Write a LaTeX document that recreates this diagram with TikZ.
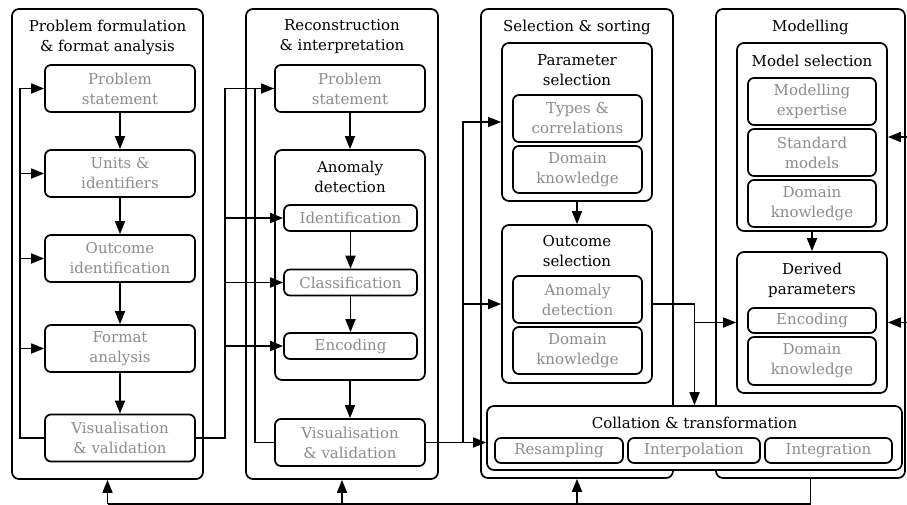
\documentclass[tikz,border=0pt]{standalone}
\usepackage{fontspec}
\setmainfont{DejaVu Serif}
\usetikzlibrary{arrows.meta}

\begin{document}
\begin{tikzpicture}[x=1pt,y=-1pt]
            \tikzstyle{column}=[draw,rounded corners=7pt,line width=1.7pt,fill=white,inner sep=0pt]
            \tikzstyle{group}=[draw,rounded corners=7pt,line width=1.7pt,fill=white,inner sep=0pt]
            \tikzstyle{item}=[draw,rounded corners=6pt,line width=1.7pt,fill=white,inner sep=0pt,align=center,text=black!45,font=\fontsize{15}{20}\selectfont]
            \tikzstyle{heading}=[align=center,inner sep=0pt,font=\fontsize{15}{20}\selectfont]
            \tikzset{edge/.style = {-{Triangle[length=13pt,width=10pt]},line width=1.7pt}}
            \tikzset{link/.style = {line width=1.7pt}}
            \useasboundingbox (0,0) rectangle (907,504);
            \node[column,minimum width=191pt,minimum height=470pt] (c1) at (107.5,244) {};
            \node[column,minimum width=192pt,minimum height=470pt] (c2) at (342,244) {};
            \node[column,minimum width=192pt,minimum height=469pt] (c3) at (577,243.5) {};
            \node[column,minimum width=189pt,minimum height=469pt] (c4) at (810.5,243.5) {};
            \node[heading] (t1) at (107.5,37) {Problem formulation\\\& format analysis};
            \node[heading] (t2) at (342,37) {Reconstruction\\\& interpretation};
            \node[heading] (t3) at (577,27) {Selection \& sorting};
            \node[heading] (t4) at (810.5,27) {Modelling};
            \node[item,minimum width=150pt,minimum height=47pt] (ps1) at (120,88.5) {Problem\\statement};
            \node[item,minimum width=150pt,minimum height=47pt] (ui) at (120,173.5) {Units \&\\identifiers};
            \node[item,minimum width=150pt,minimum height=47pt] (oi) at (120,258.5) {Outcome\\identification};
            \node[item,minimum width=150pt,minimum height=47pt] (fa) at (120,348.5) {Format\\analysis};
            \node[item,minimum width=150pt,minimum height=47pt] (vv1) at (120,438) {Visualisation\\\& validation};
            \node[item,minimum width=150pt,minimum height=47pt] (ps2) at (350,88.5) {Problem\\statement};
            \node[group,minimum width=150pt,minimum height=230pt] (ad) at (350,265) {};
            \node[heading] (adt) at (350,177) {Anomaly\\detection};
            \node[item,minimum width=133pt,minimum height=26pt] (id) at (350.5,218) {Identification};
            \node[item,minimum width=133pt,minimum height=26pt] (cl) at (350.5,282.5) {Classification};
            \node[item,minimum width=133pt,minimum height=26pt] (en) at (350.5,346) {Encoding};
            \node[item,minimum width=150pt,minimum height=47pt] (vv2) at (350,442.5) {Visualisation\\\& validation};
            \node[group,minimum width=150pt,minimum height=158pt] (psel) at (577,122) {};
            \node[heading] (pst) at (577,70.5) {Parameter\\selection};
            \node[item,minimum width=129pt,minimum height=47pt] (tc) at (577.5,118.5) {Types \&\\correlations};
            \node[item,minimum width=129pt,minimum height=47pt] (dk1) at (577.5,169.5) {Domain\\knowledge};
            \node[group,minimum width=150pt,minimum height=158pt] (osel) at (577,304) {};
            \node[heading] (ost) at (577,251.5) {Outcome\\selection};
            \node[item,minimum width=129pt,minimum height=47pt] (an) at (577.5,299.5) {Anomaly\\detection};
            \node[item,minimum width=129pt,minimum height=47pt] (dk2) at (577.5,350.5) {Domain\\knowledge};
            \node[group,minimum width=150pt,minimum height=188pt] (msel) at (812,137) {};
            \node[heading] (mst) at (812,61) {Model selection};
            \node[item,minimum width=128pt,minimum height=47pt] (me) at (812,101.5) {Modelling\\expertise};
            \node[item,minimum width=128pt,minimum height=47pt] (sm) at (812,152.5) {Standard\\models};
            \node[item,minimum width=128pt,minimum height=47pt] (dk3) at (812,203.5) {Domain\\knowledge};
            \node[group,minimum width=150pt,minimum height=141pt] (der) at (812,322.5) {};
            \node[heading] (dert) at (812,280) {Derived\\parameters};
            \node[item,minimum width=128pt,minimum height=25pt] (en2) at (812,320.5) {Encoding};
            \node[item,minimum width=128pt,minimum height=48pt] (dk4) at (812,361) {Domain\\knowledge};
            \node[group,minimum width=415pt,minimum height=64pt] (coll) at (694.5,438) {};
            \node[heading] (collt) at (694.5,423) {Collation \& transformation};
            \node[item,minimum width=128pt,minimum height=25pt] (rs) at (559,450.5) {Resampling};
            \node[item,minimum width=132pt,minimum height=25pt] (ip) at (694,450.5) {Interpolation};
            \node[item,minimum width=127pt,minimum height=25pt] (ig) at (828.5,450.5) {Integration};
            % free ends
            \coordinate (l1) at (20,438);
            \coordinate (r1) at (225,438);
            \coordinate (l2) at (255,442.5);
            \coordinate (r2) at (463,442.5);
            \coordinate (r3) at (694.5,304);
            \coordinate (rt) at (907,0);
            \coordinate (bot) at (0,504);
            % column 1
            \draw[edge] (ps1) -- (ui);
            \draw[edge] (ui) -- (oi);
            \draw[edge] (oi) -- (fa);
            \draw[edge] (fa) -- (vv1);
            \draw[edge] (vv1.west) -- (l1) |- (ps1.west);
            \draw[edge] (l1 |- ui.west) -- (ui.west);
            \draw[edge] (l1 |- oi.west) -- (oi.west);
            \draw[edge] (l1 |- fa.west) -- (fa.west);
            % column 1 to column 2
            \draw[edge] (vv1.east) -- (r1) |- (ps2.west);
            \draw[edge] (r1 |- id.west) -- (id.west);
            \draw[edge] (r1 |- cl.west) -- (cl.west);
            \draw[edge] (r1 |- en.west) -- (en.west);
            % column 2
            \draw[edge] (ps2) -- (ad);
            \draw[edge] (id) -- (cl);
            \draw[edge] (cl) -- (en);
            \draw[edge] (ad) -- (vv2);
            \draw[link] (vv2.west) -- (l2) |- (ps2.west);
            % column 2 to column 3
            \draw[edge] (vv2.east) -- (r2 -| coll.west);
            \draw[edge] (r2) |- (osel.west);
            \draw[edge] (r2) |- (psel.west);
            % column 3
            \draw[edge] (psel) -- (osel);
            \draw[edge] (osel.east) -| (coll.north);
            \draw[edge] (r3 |- der.west) -- (der.west);
            % column 4
            \draw[edge] (msel) -- (der);
            \draw[edge] (rt |- msel.east) -- (msel.east);
            \draw[edge] (rt |- der.east) -- (der.east);
            % back to the start
            \draw[link] (c4.south) -- (c4.south |- bot) -- (c1.south |- bot);
            \draw[edge] (c1.south |- bot) -- (c1.south);
            \draw[edge] (c2.south |- bot) -- (c2.south);
            \draw[edge] (c3.south |- bot) -- (c3.south);
        \end{tikzpicture}
\end{document}
